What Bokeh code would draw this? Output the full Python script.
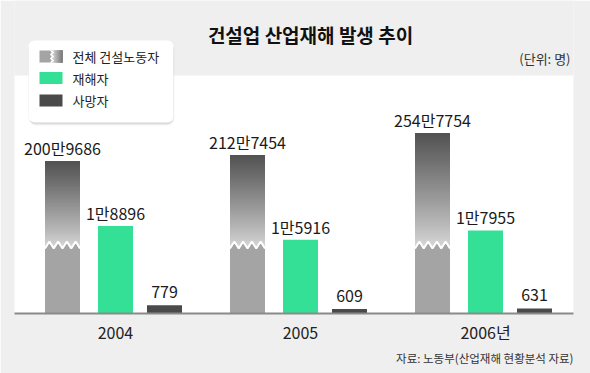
import numpy as np
from bokeh.plotting import figure
from bokeh.models import Range1d, FixedTicker, BoxAnnotation, Label, Title, ColumnDataSource
from bokeh.core.properties import value
from bokeh.embed import file_html
from bokeh.resources import INLINE

# ---------------- data ----------------
years = ["2004", "2005", "2006년"]
total_workers = [2009686, 2127454, 2547754]   # 전체 건설노동자
injured = [18896, 15916, 17955]               # 재해자
deaths = [779, 609, 631]                      # 사망자
series_names = ["전체 건설노동자", "재해자", "사망자"]
title_text = "건설업 산업재해 발생 추이"
unit_text = "(단위: 명)"
source_text = "자료: 노동부(산업재해 현황분석 자료)"


def fmt_man(v):
    return f"{v // 10000}만{v % 10000}" if v >= 10000 else str(v)


# ---------------- styling / layout ----------------
FONT = "Noto Sans CJK KR"
GREEN = "#33e096"
DARK = "#4a4a4a"
GRAY_LOW = "#a4a4a4"
BG = "#efefef"

GSTEP = 185.0          # px between groups
G0 = 115.0             # px column of first group centre


def rx(px):            # pixel column -> x data
    return (px - G0) / GSTEP


def ry(py):            # pixel row -> y data (px above baseline)
    return 313 - py


BAR_W = 35 / GSTEP
OFF_TOTAL = -53 / GSTEP
OFF_INJ = 0.0
OFF_DEATH = 49 / GSTEP
LABEL_GAP = 13

# display scales (illustrative chart: each series has its own scale, total is broken)
INJ_SCALE = 0.004628


def inj_h(v):
    return v * INJ_SCALE


def death_h(v):
    return (v - 400) * 0.022


BREAK_LO, BREAK_HI = 65.0, 72.0


def total_h(v):
    return 163.7 + (v - 2228298) * 5.296e-5


def lerp_color(c1, c2, t):
    a = [int(c1[i:i + 2], 16) for i in (1, 3, 5)]
    b = [int(c2[i:i + 2], 16) for i in (1, 3, 5)]
    return "#%02x%02x%02x" % tuple(int(round(a[k] + (b[k] - a[k]) * t)) for k in range(3))


idx = np.arange(len(years))

p = figure(frame_width=559, frame_height=313,
           x_range=Range1d(rx(14), rx(573)), y_range=Range1d(0, 313),
           output_backend="svg", toolbar_location=None, y_axis_location=None,
           min_border_left=14, min_border_right=17, min_border_top=0, min_border_bottom=60,
           background_fill_color=BG, border_fill_color=BG, outline_line_color=None)
p.grid.visible = False

# white panel
p.add_layout(BoxAnnotation(bottom=0, top=ry(75), fill_color="white", fill_alpha=1,
                           line_color=None, level="underlay"))

# ---------------- total workers (broken gradient bars) ----------------
N = 48
gl, gr, gb, gt, gc = [], [], [], [], []
zx, zy, px_, py_ = [], [], [], []
tops_total = [total_h(v) for v in total_workers]
for i, top in zip(idx, tops_total):
    xl = i + OFF_TOTAL - BAR_W / 2
    xr = i + OFF_TOTAL + BAR_W / 2
    ys = np.linspace(BREAK_LO - 1, top, N + 1)[:-1]
    for y in ys:
        t = (y - (BREAK_LO - 1)) / (top - (BREAK_LO - 1))
        gl.append(xl); gr.append(xr); gb.append(y); gt.append(top)
        gc.append(lerp_color("#dadada", "#505050", t ** 0.9))
    kx = [xl + k * (xr - xl) / 8 for k in range(9)]
    ky = [BREAK_LO if k % 2 == 0 else BREAK_HI for k in range(9)]
    zx.append(kx); zy.append(ky)
    px_.append([xl] + kx + [xr]); py_.append([0] + ky + [0])

p.quad(left=gl, right=gr, bottom=gb, top=gt, fill_color=gc, line_color=None)
p.patches(xs=px_, ys=py_, fill_color=GRAY_LOW, line_color=None)
p.multi_line(xs=zx, ys=zy, line_color="white", line_width=2)

# ---------------- injured & deaths ----------------
src_inj = ColumnDataSource(dict(x=idx + OFF_INJ, top=[inj_h(v) for v in injured]))
p.vbar(x="x", top="top", bottom=0, width=BAR_W, source=src_inj, fill_color=GREEN, line_color=None)
src_d = ColumnDataSource(dict(x=idx + OFF_DEATH, top=[death_h(v) for v in deaths]))
p.vbar(x="x", top="top", bottom=0, width=BAR_W, source=src_d, fill_color=DARK, line_color=None)

# ---------------- value labels ----------------
lab_x = list(idx + OFF_TOTAL) + list(idx + OFF_INJ) + list(idx + OFF_DEATH)
lab_y = tops_total + [inj_h(v) for v in injured] + [death_h(v) for v in deaths]
lab_y = [y + LABEL_GAP for y in lab_y]
lab_t = [fmt_man(v) for v in total_workers] + [fmt_man(v) for v in injured] + [fmt_man(v) for v in deaths]
p.text(x=lab_x, y=lab_y, text=lab_t, text_align="center", text_baseline="alphabetic",
       text_font=value(FONT), text_font_size="16px", text_color="#1a1a1a")

# ---------------- x axis ----------------
ax = p.xaxis[0]
ax.ticker = FixedTicker(ticks=list(idx))
ax.major_label_overrides = {int(i): y for i, y in zip(idx, years)}
ax.axis_line_color = "#8a8a8a"
ax.axis_line_width = 2
ax.major_tick_line_color = None
ax.minor_tick_line_color = None
ax.major_label_text_font = FONT
ax.major_label_text_font_size = "16px"
ax.major_label_text_color = "#222222"
ax.major_label_standoff = 0

p.add_layout(Title(text=source_text, align="right", text_font=FONT, text_font_size="11.5px",
                   text_font_style="normal", text_color="#333333", standoff=3), "below")

# ---------------- title & unit ----------------
p.add_layout(Label(x=rx(310), y=ry(34), text=title_text, text_align="center",
                   text_baseline="middle", text_font=FONT, text_font_size="19px",
                   text_font_style="bold", text_color="#111111"))
p.add_layout(Label(x=rx(570), y=ry(58), text=unit_text, text_align="right",
                   text_baseline="middle", text_font=FONT, text_font_size="13px",
                   text_color="#333333"))

# ---------------- legend (drawn) ----------------
for dx, dy, a in [(1, -3, 0.05), (0, -2, 0.06), (0, -1, 0.07)]:
    p.add_layout(BoxAnnotation(left=rx(28) + dx / GSTEP, right=rx(173) + dx / GSTEP,
                               top=ry(40) + dy, bottom=ry(122) + dy, fill_color="black",
                               fill_alpha=a, line_color=None, border_radius=7, level="underlay"))
p.add_layout(BoxAnnotation(left=rx(28), right=rx(173), top=ry(40), bottom=ry(122),
                           fill_color="white", fill_alpha=1, line_color=None,
                           border_radius=6, level="underlay"))

row_y = [ry(56), ry(77.5), ry(100)]
ih = 6
# gray icon: left flat, right gradient, white zigzag between
p.quad(left=[rx(39)], right=[rx(51)], bottom=[row_y[0] - ih], top=[row_y[0] + ih],
       fill_color=GRAY_LOW, line_color=None)
ni = 12
il = [rx(51) + k * (rx(62) - rx(51)) / ni for k in range(ni)]
p.quad(left=il, right=[rx(62)] * ni, bottom=[row_y[0] - ih] * ni, top=[row_y[0] + ih] * ni,
       fill_color=[lerp_color("#d8d8d8", "#7a7a7a", k / (ni - 1)) for k in range(ni)], line_color=None)
zzy = [row_y[0] - ih + k * 2 * ih / 6 for k in range(7)]
zzx = [rx(50) if k % 2 == 0 else rx(53) for k in range(7)]
p.line(x=zzx, y=zzy, line_color="white", line_width=1.5)
p.quad(left=[rx(39)] * 2, right=[rx(62)] * 2, bottom=[row_y[1] - ih, row_y[2] - ih],
       top=[row_y[1] + ih, row_y[2] + ih], fill_color=[GREEN, DARK], line_color=None)
for yv, name in zip(row_y, series_names):
    p.add_layout(Label(x=rx(72), y=yv, text=name, text_align="left", text_baseline="middle",
                       text_font=FONT, text_font_size="13px", text_color="#222222"))

open("out.html", "w").write(file_html(p, INLINE))
